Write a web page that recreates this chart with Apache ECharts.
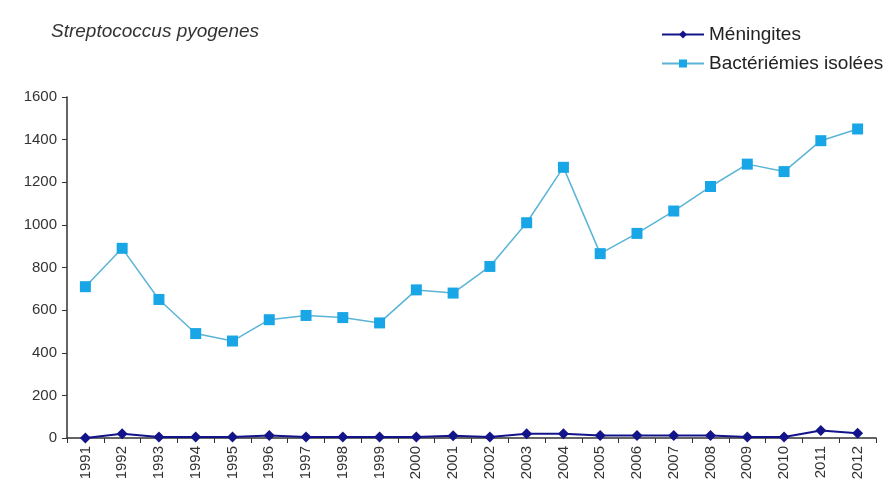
<!DOCTYPE html>
<html>
<head>
<meta charset="utf-8">
<script src="https://cdn.jsdelivr.net/npm/echarts@6/dist/echarts.min.js"></script>
<style>
  html, body { margin: 0; padding: 0; background: #fff; }
  #chart { width: 890px; height: 491px; }
</style>
</head>
<body>
<div id="chart"></div>
<script>
const years = ['1991', '1992', '1993', '1994', '1995', '1996', '1997', '1998', '1999', '2000', '2001',
  '2002', '2003', '2004', '2005', '2006', '2007', '2008', '2009', '2010', '2011', '2012']
const meningites = [0, 20, 5, 5, 5, 12, 5, 5, 5, 5, 10, 5, 20, 20, 12, 12, 12, 12, 5, 5, 35, 22]
const bacteriemies = [710, 890, 650, 490, 455, 555, 575, 565, 540, 695, 680, 805, 1010, 1270, 865,
  960, 1065, 1180, 1285, 1250, 1395, 1450]
const yTicks = [0, 200, 400, 600, 800, 1000, 1200, 1400, 1600]

const fontFam = '"Liberation Sans", Arial, sans-serif'
const chart = echarts.init(document.getElementById('chart'))

const option = {
  animation: false,
  textStyle: { fontFamily: fontFam },
  title: {
    text: 'Streptococcus pyogenes',
    left: 46,
    top: 17,
    textStyle: { fontStyle: 'italic', fontWeight: 'normal', fontSize: 19, color: '#333' },
  },
  legend: {
    orient: 'vertical',
    left: 656,
    top: 20,
    itemWidth: 42,
    itemHeight: 10,
    itemGap: 10,
    textStyle: { fontSize: 19, color: '#222' },
    data: ['Méningites', 'Bactériémies isolées'],
  },
  grid: { left: 67, right: 14, top: 97, bottom: 53 },
  xAxis: {
    type: 'category',
    data: years,
    boundaryGap: true,
    axisLine: { lineStyle: { color: '#333', width: 1.5 } },
    axisTick: { show: true, length: 5, lineStyle: { color: '#333' } },
    axisLabel: { rotate: 90, fontSize: 15, color: '#333', margin: 8 },
  },
  yAxis: {
    type: 'value',
    min: yTicks[0],
    max: yTicks[yTicks.length - 1],
    interval: 200,
    splitLine: { show: false },
    axisLine: { show: true, lineStyle: { color: '#333', width: 1.5 } },
    axisTick: { show: true, length: 5, lineStyle: { color: '#333' } },
    axisLabel: { fontSize: 15, color: '#333', margin: 10, formatter: (v) => String(v) },
  },
  series: [
    {
      name: 'Méningites',
      type: 'line',
      data: meningites,
      symbol: 'diamond',
      symbolSize: 11,
      itemStyle: { color: '#14148a' },
      lineStyle: { color: '#14148a', width: 2 },
      z: 3,
    },
    {
      name: 'Bactériémies isolées',
      type: 'line',
      data: bacteriemies,
      symbol: 'rect',
      symbolSize: 11,
      itemStyle: { color: '#19a6e6' },
      lineStyle: { color: '#5ab4d6', width: 1.5 },
    },
  ],
}

chart.setOption(option)
</script>
</body>
</html>
